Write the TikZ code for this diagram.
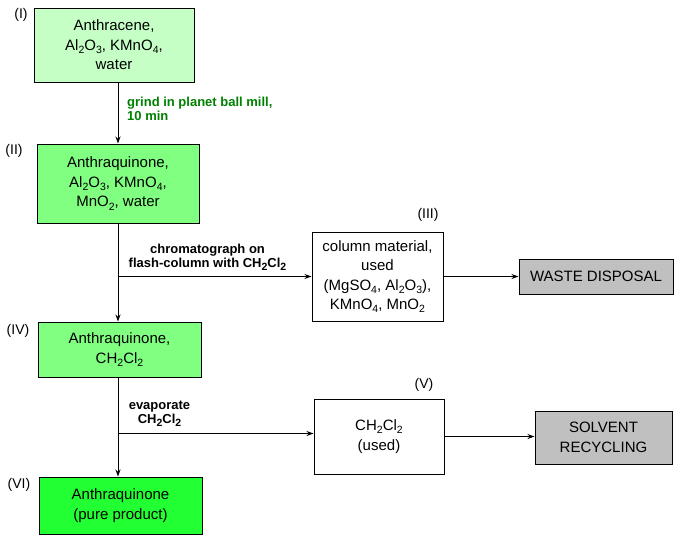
\documentclass[tikz,border=0pt]{standalone}
\usepackage{fontspec}
\setmainfont{Liberation Sans}
\usetikzlibrary{arrows.meta,calc}
\newcommand{\chs}[1]{\raisebox{-0.4ex}{\fontsize{10.5}{10.5}\selectfont #1}}
\definecolor{cone}{RGB}{198,255,198}
\definecolor{ctwo}{RGB}{128,255,128}
\definecolor{cthree}{RGB}{34,255,50}
\definecolor{cgrey}{RGB}{192,192,192}
\definecolor{dgreen}{RGB}{0,128,0}
\begin{document}
\begin{tikzpicture}[x=1pt,y=-1pt,
 box/.style={draw=black, line width=1pt, align=center, inner sep=0pt, font=\fontsize{15}{19.5}\selectfont, text=black},
 arr/.style={draw=black, line width=0.9pt, -{Stealth[length=7pt,width=5pt]}},
 tag/.style={font=\fontsize{14}{14}\selectfont, inner sep=0pt},
 cond/.style={font=\bfseries\fontsize{13}{14}\selectfont, inner sep=0pt}]
\useasboundingbox[fill=white] (0,0) rectangle (680,550);

\node[box, fill=cone, minimum width=160pt, minimum height=74pt] (I) at (114,45)
  {Anthracene,\\Al\chs{2}O\chs{3}, KMnO\chs{4},\\water};
\node[box, fill=ctwo, minimum width=162pt, minimum height=79pt] (II) at (118,183.5)
  {Anthraquinone,\\Al\chs{2}O\chs{3}, KMnO\chs{4},\\MnO\chs{2}, water};
\node[box, fill=white, minimum width=131pt, minimum height=89pt] (III) at (377.5,276.5)
  {column material,\\used\\(MgSO\chs{4}, Al\chs{2}O\chs{3}),\\KMnO\chs{4}, MnO\chs{2}};
\node[box, fill=cgrey, minimum width=154pt, minimum height=35pt] (W) at (596,276.5)
  {WASTE DISPOSAL};
\node[box, fill=ctwo, minimum width=163pt, minimum height=55pt] (IV) at (119.5,349.5)
  {Anthraquinone,\\CH\chs{2}Cl\chs{2}};
\node[box, fill=white, minimum width=130pt, minimum height=75pt] (V) at (379,436.5)
  {CH\chs{2}Cl\chs{2}\\(used)};
\node[box, fill=cgrey, minimum width=137pt, minimum height=53pt] (S) at (603.5,437.5)
  {SOLVENT\\RECYCLING};
\node[box, fill=cthree, minimum width=163pt, minimum height=57pt] (VI) at (120.5,505.5)
  {Anthraquinone\\(pure product)};

\node[tag] (tI) at (21,15) {(I)};
\node[tag] (tII) at (14,151) {(II)};
\node[tag] (tIII) at (428,215) {(III)};
\node[tag] (tIV) at (18,331) {(IV)};
\node[tag] (tV) at (424,385) {(V)};
\node[tag] (tVI) at (19,485) {(VI)};

\node[cond, text=dgreen, anchor=west, align=left] (c1) at (127,109)
  {grind in planet ball mill,\\10 min};
\node[cond, align=center] (c2) at (207.5,257)
  {chromatograph on\\flash-column with CH\chs{2}Cl\chs{2}};
\node[cond, align=center] (c3) at (159.5,414)
  {evaporate\\CH\chs{2}Cl\chs{2}};

\coordinate (b1) at (II.south |- III.west);
\coordinate (v2) at ($(IV.south)+(-1.5,0)$);
\coordinate (b2) at ($(v2)+(0,56)$);

\draw[arr] (I.south -| II.north) -- (II.north);
\draw[arr] (II.south) -- (II.south |- IV.north);
\draw[arr] (b1) -- (III.west);
\draw[arr] (III.east) -- (W.west);
\draw[arr] (v2) -- (v2 |- VI.north);
\draw[arr] (b2) -- (b2 -| V.west);
\draw[arr] (V.east) -- (V.east -| S.west);
\end{tikzpicture}
\end{document}
